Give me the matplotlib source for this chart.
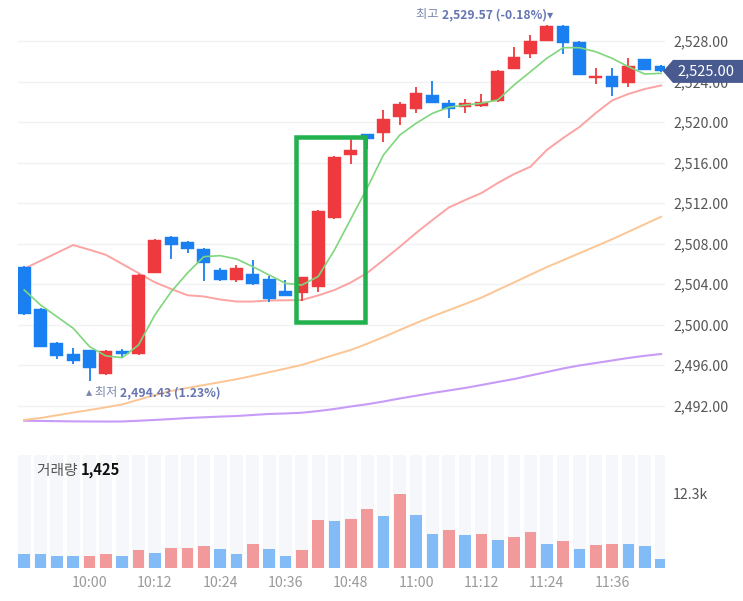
import matplotlib
matplotlib.use("Agg")
import matplotlib.pyplot as plt
from matplotlib.patches import Polygon, Rectangle
import numpy as np

plt.rcParams['font.family'] = ['Noto Sans CJK KR', 'DejaVu Sans']

W, H, DPI = 743, 601, 100

# ---------------- data (3-minute candles, 09:48 .. 11:45) ----------------
opens = [2505.72, 2501.54, 2498.22, 2497.13, 2497.47, 2495.10, 2497.40, 2497.10, 2505.10, 2508.68,
         2508.19, 2507.47, 2505.40, 2504.41, 2504.97, 2504.51, 2503.35, 2503.15, 2503.69, 2510.50,
         2516.75, 2518.79, 2518.89, 2520.53, 2521.26, 2522.70, 2521.85, 2521.51, 2521.58, 2522.08,
         2525.24, 2526.69, 2528.03, 2529.51, 2527.93, 2524.32, 2524.58, 2523.82, 2526.19, 2525.56]
highs = [2505.80, 2501.60, 2498.25, 2497.66, 2497.50, 2497.45, 2497.57, 2504.95, 2508.45, 2508.75,
         2508.30, 2507.55, 2505.62, 2505.89, 2506.38, 2504.83, 2504.41, 2504.70, 2511.30, 2516.60,
         2518.30, 2518.85, 2521.19, 2522.01, 2523.43, 2524.05, 2522.18, 2522.24, 2522.77, 2525.15,
         2527.44, 2528.59, 2529.57, 2529.55, 2528.00, 2525.36, 2525.30, 2526.35, 2526.25, 2525.60]
lows = [2500.95, 2497.75, 2496.58, 2496.08, 2494.43, 2495.05, 2496.74, 2497.05, 2505.05, 2506.48,
        2507.04, 2504.31, 2504.35, 2504.18, 2503.95, 2502.26, 2502.80, 2502.33, 2503.25, 2510.45,
        2515.86, 2517.31, 2518.06, 2519.71, 2520.86, 2521.85, 2520.37, 2520.92, 2521.50, 2522.00,
        2525.20, 2526.35, 2528.00, 2526.69, 2524.60, 2523.73, 2522.60, 2523.43, 2525.10, 2524.95]
closes = [2501.02, 2497.79, 2496.93, 2496.41, 2495.69, 2497.43, 2497.13, 2504.90, 2508.36, 2507.86,
          2507.47, 2506.05, 2504.41, 2505.62, 2504.01, 2502.53, 2502.86, 2504.67, 2511.25, 2516.52,
          2517.24, 2518.33, 2520.27, 2521.75, 2522.90, 2521.91, 2521.29, 2521.85, 2522.01, 2525.07,
          2526.45, 2528.03, 2529.50, 2527.83, 2524.64, 2524.54, 2523.49, 2525.53, 2525.14, 2525.00]

ma_green = [2503.42, 2501.94, 2500.79, 2499.64, 2497.83, 2496.91, 2496.74, 2497.99, 2500.95, 2503.25,
            2505.10, 2506.71, 2506.81, 2506.48, 2505.72, 2504.90, 2504.08, 2503.91, 2504.75, 2507.37,
            2510.43, 2513.49, 2516.75, 2518.72, 2519.88, 2520.86, 2521.46, 2521.68, 2521.85, 2522.18,
            2523.66, 2524.97, 2526.29, 2527.34, 2527.34, 2526.94, 2526.29, 2525.46, 2524.74, 2524.81]
ma_pink = [2505.52, 2506.30, 2507.08, 2507.86, 2507.39, 2506.89, 2505.99, 2505.08, 2504.18, 2503.52,
           2502.90, 2502.78, 2502.48, 2502.28, 2502.28, 2502.38, 2502.40, 2502.43, 2502.88, 2503.42,
           2504.16, 2505.10, 2506.38, 2507.69, 2509.05, 2510.33, 2511.56, 2512.30, 2512.99, 2513.98,
           2514.87, 2515.59, 2517.24, 2518.42, 2519.51, 2520.89, 2522.13, 2522.77, 2523.26, 2523.61]
ma_orange = [2490.59, 2490.78, 2491.05, 2491.32, 2491.57, 2491.84, 2492.12, 2492.59, 2493.05, 2493.46,
             2493.75, 2494.04, 2494.32, 2494.61, 2494.95, 2495.30, 2495.66, 2496.02, 2496.52, 2497.02,
             2497.50, 2498.11, 2498.77, 2499.47, 2500.16, 2500.81, 2501.43, 2502.04, 2502.67, 2503.42,
             2504.17, 2504.93, 2505.68, 2506.36, 2507.05, 2507.73, 2508.43, 2509.17, 2509.91, 2510.65]
ma_purple = [2490.51, 2490.49, 2490.47, 2490.45, 2490.44, 2490.43, 2490.44, 2490.51, 2490.59, 2490.68,
             2490.78, 2490.85, 2490.92, 2490.98, 2491.08, 2491.18, 2491.23, 2491.30, 2491.47, 2491.67,
             2491.92, 2492.14, 2492.41, 2492.71, 2492.98, 2493.25, 2493.50, 2493.75, 2494.04, 2494.34,
             2494.63, 2494.98, 2495.32, 2495.67, 2495.97, 2496.21, 2496.46, 2496.71, 2496.92, 2497.10]

volumes = [2370, 2370, 2040, 2040, 2040, 2370, 2040, 2980, 2530, 3360,
           3360, 3590, 3200, 2370, 3970, 3200, 2040, 2980, 7950, 7780,
           8160, 9820, 8560, 12300, 8820, 5680, 6340, 5460, 5680, 4690,
           5080, 5910, 4020, 4470, 3200, 3810, 4020, 4020, 3590, 1425]
vol_up = [0, 0, 0, 0, 1, 1, 0, 1, 0, 1,
          1, 1, 0, 0, 1, 0, 0, 1, 1, 0,
          1, 1, 0, 1, 0, 0, 1, 0, 1, 0,
          1, 1, 0, 1, 0, 1, 1, 0, 0, 0]

time_labels = ["10:00", "10:12", "10:24", "10:36", "10:48", "11:00", "11:12", "11:24", "11:36"]
time_label_idx = [4, 8, 12, 16, 20, 24, 28, 32, 36]
price_ticks = [2492, 2496, 2500, 2504, 2508, 2512, 2516, 2520, 2524, 2528]
last_price = 2525.00
max_price, max_pct = 2529.57, "-0.18%"
min_price, min_pct = 2494.43, "1.23%"
last_volume = 1425
vol_tick = 12300
vol_tick_label = "12.3k"

# ---------------- styling ----------------
RED = '#ee3a3e'
BLUE = '#1a7ff0'
VRED = '#f2999b'
VBLUE = '#82bbf6'
BGCOL = '#f5f7fb'
GRID = '#f1f2f4'
LBL = '#555555'
ANN = '#7b87ad'
ANNB = '#6676b2'


def px_box(l, t, r, b):
    return [l / W, 1 - b / H, (r - l) / W, (b - t) / H]


def px2pt(p):
    return p * 72.0 / DPI


fig = plt.figure(figsize=(W / DPI, H / DPI), dpi=DPI)
fig.patch.set_facecolor('white')

ax = fig.add_axes(px_box(18, 10, 665, 432))
axv = fig.add_axes(px_box(18, 455, 665, 568))

n = len(opens)
x = np.arange(n)
o = np.array(opens); c = np.array(closes); hi = np.array(highs); lo = np.array(lows)
up = c >= o
cols = np.where(up, RED, BLUE)

XL = (-0.38, 39.24)

# price panel
ax.set_xlim(*XL)
ax.set_ylim(2489.40, 2531.06)
for s in ax.spines.values():
    s.set_visible(False)
ax.set_facecolor('none')
ax.yaxis.tick_right()
ax.set_yticks(price_ticks)
ax.set_yticklabels([f"{v:,.2f}" for v in price_ticks])
ax.tick_params(axis='y', length=0, pad=px2pt(8), labelsize=10.2, labelcolor=LBL)
ax.set_xticks([])
ax.grid(axis='y', color=GRID, linewidth=1.0, zorder=0)
ax.set_axisbelow(True)

# moving averages
ax.plot(x, ma_purple, color='#c79bf7', lw=1.5, zorder=2)
ax.plot(x, ma_orange, color='#fcc594', lw=1.4, zorder=2)
ax.plot(x, ma_pink, color='#fca3a3', lw=1.4, zorder=2)

# candles
ax.vlines(x, lo, hi, colors=cols, lw=1.3, zorder=3)
ax.bar(x, np.abs(c - o), bottom=np.minimum(o, c), width=0.78, color=cols, zorder=4,
       edgecolor=cols, linewidth=0.3)
ax.plot(x, ma_green, color='#7fd67c', lw=1.2, zorder=5)

# highlight box
ax.add_patch(Rectangle((16.64, 2500.29), 20.87 - 16.64, 2518.49 - 2500.29, fill=False,
                       edgecolor='#23b14d', linewidth=px2pt(4.5), zorder=6, joinstyle='miter'))

# max annotation
imax = int(np.argmax(hi))
t_b = ax.annotate(f"{max_price:,.2f} ({max_pct})\u25BE", xy=(imax, max_price),
                  xytext=(px2pt(6), px2pt(4)), textcoords='offset points',
                  ha='right', va='bottom', fontsize=8.8, fontweight='bold', color=ANNB,
                  annotation_clip=False, zorder=7)
ax.annotate("최고 ", xy=(0, 0), xycoords=t_b, ha='right', va='bottom', fontsize=8.8,
            color=ANN, zorder=7)

# min annotation
imin = int(np.argmin(lo))
t_m = ax.annotate("\u25B4 최저 ", xy=(imin, min_price), xytext=(px2pt(-4), px2pt(-5)),
                  textcoords='offset points', ha='left', va='top', fontsize=8.8,
                  color=ANN, annotation_clip=False, zorder=7)
ax.annotate(f"{min_price:,.2f} ({min_pct})", xy=(1, 0), xycoords=t_m, ha='left', va='bottom',
            fontsize=8.8, fontweight='bold', color=ANNB, zorder=7)

# volume panel
axv.set_xlim(*XL)
axv.set_ylim(0, 18657)
for s in axv.spines.values():
    s.set_visible(False)
axv.bar(x, [18657] * n, width=0.78, color=BGCOL, zorder=1)
axv.bar(x, volumes, width=0.72, color=[VRED if u else VBLUE for u in vol_up], zorder=2)
axv.yaxis.tick_right()
axv.set_yticks([vol_tick])
axv.set_yticklabels([vol_tick_label])
axv.tick_params(axis='y', length=0, pad=px2pt(8), labelsize=10.2, labelcolor=LBL)
axv.set_xticks(time_label_idx)
axv.set_xticklabels(time_labels)
axv.tick_params(axis='x', length=0, pad=px2pt(8), labelsize=10.2, labelcolor='#999999')

t_v = fig.text(37 / W, 1 - 471 / H, "거래량 ", ha='left', va='center', fontsize=10.6, color=LBL)
axv.annotate(f"{last_volume:,}", xy=(1, 0), xycoords=t_v, ha='left', va='bottom', fontsize=10.6,
             fontweight='bold', color='#111111')

# last price badge
yb = 1 - (71.4 / H)
bh = 11.5 / H
pts = [(663 / W, yb), (673 / W, yb + bh), (743 / W, yb + bh), (743 / W, yb - bh), (673 / W, yb - bh)]
fig.patches.append(Polygon(pts, closed=True, transform=fig.transFigure, facecolor='#485a90',
                           edgecolor='none', zorder=5))
fig.text(677 / W, yb, f"{last_price:,.2f}", ha='left', va='center', fontsize=10.5, color='white',
         zorder=6)

fig.savefig('out.png', dpi=DPI)
